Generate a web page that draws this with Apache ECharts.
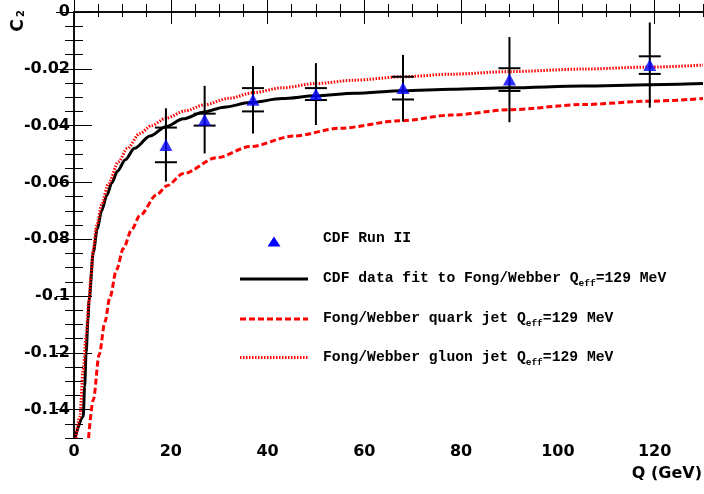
<!DOCTYPE html>
<html>
<head>
<meta charset="utf-8">
<script src="https://cdn.jsdelivr.net/npm/echarts@6/dist/echarts.min.js"></script>
<style>
  html, body { margin: 0; padding: 0; background: #fff; }
  #chart { width: 704px; height: 494px; }
</style>
</head>
<body>
<div id="chart"></div>
<script>
// CDF Run II measurement of C2 versus jet energy scale Q
const dataQ      = [19, 27, 37, 50, 68, 90, 119];
const dataC2     = [-0.0468, -0.0379, -0.0309, -0.0289, -0.0268, -0.0238, -0.0187];
const dataErrTot = [0.0129, 0.0119, 0.0119, 0.0109, 0.0117, 0.0150, 0.0150];
const dataErrIn  = [0.0061, 0.0021, 0.0041, 0.0021, 0.0040, 0.0040, 0.0031];

// Fit of CDF data to Fong/Webber prediction
const fitQ  = [0.2, 1.9, 2.2, 2.5, 2.9, 3.1, 4.0, 4.8, 5.7, 6.8, 7.8, 9.0, 10.6, 12.5, 15.7, 19.0, 22.6, 26.7, 31.0, 36.4, 43.0, 50.0, 58.0, 68.0, 78.0, 90.0, 105.0, 119.0, 130.0];
const fitC2 = [-0.150, -0.1425, -0.1319, -0.1200, -0.1080, -0.1017, -0.0845, -0.0765, -0.0700, -0.0645, -0.0602, -0.0560, -0.0520, -0.0480, -0.0437, -0.0404, -0.0376, -0.0353, -0.0335, -0.0319, -0.0305, -0.0295, -0.0286, -0.0277, -0.0272, -0.0267, -0.0261, -0.0256, -0.0252];

// Fong/Webber quark jet prediction
const quarkQ  = [3.0, 4.0, 5.2, 6.4, 7.4, 8.8, 10.2, 11.9, 13.6, 17.1, 19.2, 22.6, 29.5, 36.4, 45.3, 55.0, 67.4, 78.0, 90.1, 105.0, 119.0, 130.0];
const quarkC2 = [-0.150, -0.1365, -0.1207, -0.1091, -0.1006, -0.0907, -0.0833, -0.0767, -0.0717, -0.0643, -0.0612, -0.0569, -0.0513, -0.0474, -0.0437, -0.0409, -0.0383, -0.0363, -0.0344, -0.0326, -0.0314, -0.0305];

// Fong/Webber gluon jet prediction
const gluonQ  = [0.4, 1.2, 1.9, 2.5, 3.1, 3.5, 4.0, 4.7, 5.7, 7.1, 9.2, 11.0, 13.6, 16.0, 19.0, 23.0, 27.1, 32.0, 37.1, 43.0, 50.0, 58.0, 68.0, 78.0, 90.0, 105.0, 119.0, 130.0];
const gluonC2 = [-0.150, -0.1425, -0.126, -0.114, -0.102, -0.093, -0.0835, -0.0752, -0.0679, -0.0605, -0.0527, -0.0481, -0.0428, -0.0400, -0.0374, -0.0348, -0.0326, -0.0304, -0.0284, -0.0267, -0.0252, -0.0240, -0.0228, -0.0219, -0.0210, -0.0201, -0.0194, -0.0187];

// Axis tick labels
const yTickValues = [0, -0.02, -0.04, -0.06, -0.08, -0.1, -0.12, -0.14];
const xTickValues = [0, 20, 40, 60, 80, 100, 120];

const legendLabels = [
  'CDF Run II',
  'CDF data fit to Fong/Webber Q',
  'Fong/Webber quark jet Q',
  'Fong/Webber gluon jet Q'
];
const qeffText = '=129 MeV';

const zip = (xs, ys) => xs.map((x, i) => [x, ys[i]]);

const tickFont = { fontFamily: 'DejaVu Sans', fontWeight: 'bold', fontSize: 16, color: '#000' };
const black = '#000';
const red = '#ff0000';

function xAxisDef(pos, len, extra) {
  return Object.assign({
    type: 'value', min: 0, max: 130, interval: 5, position: pos,
    splitLine: { show: false },
    axisLine: { show: false },
    axisLabel: { show: false },
    axisTick: { show: true, inside: true, length: len, lineStyle: { color: black, width: 1 } }
  }, extra || {});
}
function yAxisDef(pos, len, extra) {
  return Object.assign({
    type: 'value', min: -0.15, max: 0, interval: 0.005, position: pos,
    splitLine: { show: false },
    axisLine: { show: false },
    axisLabel: { show: false },
    axisTick: { show: true, inside: true, length: len, lineStyle: { color: black, width: 1 } }
  }, extra || {});
}
const frameLine = { show: true, lineStyle: { color: black, width: 1.5 } };
const majorTickX = len => ({ show: true, inside: true, length: len, customValues: xTickValues, lineStyle: { color: black, width: 1 } });
const majorTickY = len => ({ show: true, inside: true, length: len, customValues: yTickValues, lineStyle: { color: black, width: 1 } });

const chart = echarts.init(document.getElementById('chart'), null, { renderer: 'canvas' });

const legendRich = {
  a: { fontFamily: 'Liberation Mono', fontWeight: 'bold', fontSize: 14.7, lineHeight: 20, color: '#000' },
  s: { fontFamily: 'Liberation Mono', fontWeight: 'bold', fontSize: 9.5, lineHeight: 10, verticalAlign: 'bottom', color: '#000' }
};
function legendText(y, label, withSub) {
  const txt = withSub ? '{a|' + label + '}{s|eff}{a|' + qeffText + '}' : '{a|' + label + '}';
  return {
    type: 'text', x: 323, y: y, z: 10,
    style: { text: txt, rich: legendRich, align: 'left', verticalAlign: 'middle', textAlign: 'left', textVerticalAlign: 'middle' }
  };
}

const lineCommon = { type: 'line', showSymbol: false, clip: true, smooth: 0.3, smoothMonotone: 'x' };

const option = {
  animation: false,
  backgroundColor: '#fff',
  grid: { left: 74, top: 12, right: 1, bottom: 56, containLabel: false },
  xAxis: [
    xAxisDef('bottom', 16, {
      axisLine: frameLine,
      axisTick: majorTickX(16),
      axisLabel: Object.assign({ show: true, margin: 6, customValues: xTickValues }, tickFont)
    }),
    xAxisDef('bottom', 8),
    xAxisDef('top', 12, { axisLine: frameLine, axisTick: majorTickX(12) }),
    xAxisDef('top', 5)
  ],
  yAxis: [
    yAxisDef('left', 18, {
      axisLine: frameLine,
      axisTick: majorTickY(18),
      axisLabel: Object.assign({ show: true, margin: 4, customValues: yTickValues }, tickFont)
    }),
    yAxisDef('left', 9),
    yAxisDef('right', 18, { axisLine: frameLine, axisTick: majorTickY(18) }),
    yAxisDef('right', 9)
  ],
  series: [
    Object.assign({}, lineCommon, {
      name: 'fit', data: zip(fitQ, fitC2),
      lineStyle: { color: black, width: 3 }, z: 2
    }),
    Object.assign({}, lineCommon, {
      name: 'quark', data: zip(quarkQ, quarkC2),
      lineStyle: { color: red, width: 3, type: [6, 3] }, z: 3
    }),
    Object.assign({}, lineCommon, {
      name: 'gluon', data: zip(gluonQ, gluonC2),
      lineStyle: { color: red, width: 3, type: [1.5, 1.5] }, z: 3
    }),
    {
      name: 'errors', type: 'custom', z: 4,
      data: dataQ.map((q, i) => [q, dataC2[i], dataErrTot[i], dataErrIn[i]]),
      renderItem: function (params, api) {
        const q = api.value(0), c = api.value(1), t = api.value(2), s = api.value(3);
        const top = api.coord([q, c + t]);
        const bot = api.coord([q, c - t]);
        const capHi = api.coord([q, c + s]);
        const capLo = api.coord([q, c - s]);
        const hw = 11;
        const st = { stroke: black, lineWidth: 2 };
        return {
          type: 'group',
          children: [
            { type: 'line', shape: { x1: top[0], y1: top[1], x2: bot[0], y2: bot[1] }, style: st },
            { type: 'line', shape: { x1: capHi[0] - hw, y1: capHi[1], x2: capHi[0] + hw, y2: capHi[1] }, style: st },
            { type: 'line', shape: { x1: capLo[0] - hw, y1: capLo[1], x2: capLo[0] + hw, y2: capLo[1] }, style: st }
          ]
        };
      }
    },
    {
      name: 'CDF Run II', type: 'scatter', data: zip(dataQ, dataC2), z: 5,
      symbol: 'triangle', symbolSize: [13, 12],
      itemStyle: { color: '#0000ff' }
    }
  ],
  graphic: [
    // axis titles
    {
      type: 'text', x: 18.5, y: 25.5, rotation: Math.PI / 2, z: 10,
      style: { text: 'C', fontFamily: 'DejaVu Sans', fontWeight: 'bold', fontSize: 17, fill: '#000',
               align: 'center', verticalAlign: 'middle', textAlign: 'center', textVerticalAlign: 'middle' }
    },
    {
      type: 'text', x: 21, y: 13.5, rotation: Math.PI / 2, z: 10,
      style: { text: '2', fontFamily: 'DejaVu Sans', fontWeight: 'bold', fontSize: 10, fill: '#000',
               align: 'center', verticalAlign: 'middle', textAlign: 'center', textVerticalAlign: 'middle' }
    },
    {
      type: 'text', x: 702, y: 474, z: 10,
      style: { text: 'Q (GeV)', fontFamily: 'DejaVu Sans', fontWeight: 'bold', fontSize: 16, fill: '#000',
               align: 'right', verticalAlign: 'middle', textAlign: 'right', textVerticalAlign: 'middle' }
    },
    // legend
    {
      type: 'polygon', z: 10,
      shape: { points: [[267.5, 246.5], [280.5, 246.5], [274, 236.5]] },
      style: { fill: '#0000ff' }
    },
    { type: 'line', z: 10, shape: { x1: 240, y1: 279, x2: 308, y2: 279 }, style: { stroke: black, lineWidth: 3 } },
    { type: 'line', z: 10, shape: { x1: 240, y1: 319, x2: 308, y2: 319 }, style: { stroke: red, lineWidth: 3, lineDash: [6, 3] } },
    { type: 'line', z: 10, shape: { x1: 240, y1: 357.5, x2: 308, y2: 357.5 }, style: { stroke: red, lineWidth: 3, lineDash: [1.5, 1.5] } },
    legendText(238.5, legendLabels[0], false),
    legendText(278.5, legendLabels[1], true),
    legendText(318.5, legendLabels[2], true),
    legendText(357.5, legendLabels[3], true)
  ]
};

chart.setOption(option);
</script>
</body>
</html>
